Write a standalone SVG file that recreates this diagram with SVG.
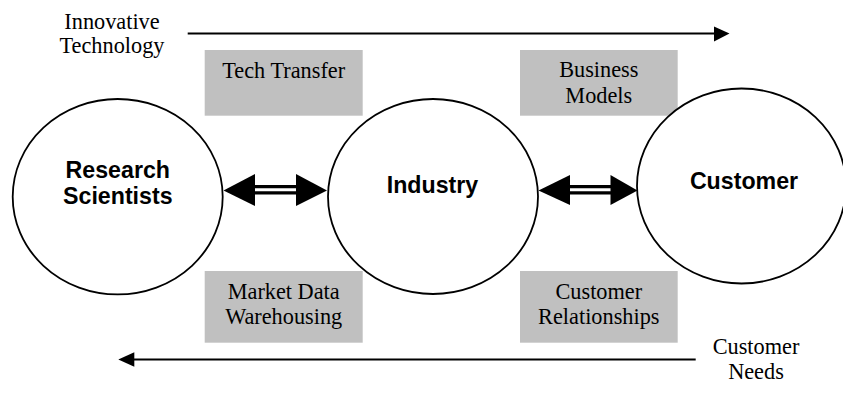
<svg xmlns="http://www.w3.org/2000/svg" width="843" height="395" viewBox="0 0 843 395">
<style>
.bg{fill:#ffffff}
.node{fill:#ffffff;stroke:#000;stroke-width:1.8}
.box{fill:#c0c0c0;stroke:none}
.serif{font-family:"Liberation Serif","Times New Roman",serif;font-size:22.3px;fill:#000;text-anchor:middle}
.bold{font-family:"Liberation Sans",Arial,sans-serif;font-size:23.2px;font-weight:bold;fill:#000;text-anchor:middle}
.line{stroke:#000;stroke-width:2;fill:none}
.shaft{stroke:#000;stroke-width:3.2;fill:none}
.head{fill:#000;stroke:none}
</style>
<rect class="bg" x="0" y="0" width="843" height="395"/>

<g id="labels">
  <text class="serif" x="112" y="29.3">Innovative</text>
  <text class="serif" x="112" y="53.3">Technology</text>
  <text class="serif" x="756" y="354">Customer</text>
  <text class="serif" x="756" y="379">Needs</text>
</g>

<g id="tech-transfer">
  <rect class="box" x="204.7" y="50" width="158" height="65.7"/>
  <text class="serif" x="283.7" y="77.7">Tech Transfer</text>
</g>
<g id="business-models">
  <rect class="box" x="520" y="50" width="157.7" height="65.7"/>
  <text class="serif" x="598.8" y="77.3">Business</text>
  <text class="serif" x="598.8" y="102.7">Models</text>
</g>
<g id="market-data">
  <rect class="box" x="204.7" y="271" width="158" height="71.7"/>
  <text class="serif" x="283.7" y="299.3">Market Data</text>
  <text class="serif" x="283.7" y="324.3">Warehousing</text>
</g>
<g id="customer-relationships">
  <rect class="box" x="520" y="271" width="157.7" height="71.7"/>
  <text class="serif" x="598.8" y="299.3">Customer</text>
  <text class="serif" x="598.8" y="324.3">Relationships</text>
</g>

<g id="research-scientists">
  <ellipse class="node" cx="117.7" cy="196.7" rx="105" ry="97.7"/>
  <text class="bold" x="117.8" y="177.7">Research</text>
  <text class="bold" x="117.8" y="204.3">Scientists</text>
</g>
<g id="industry">
  <ellipse class="node" cx="433" cy="196.5" rx="105" ry="97.5"/>
  <text class="bold" x="432.5" y="193.3">Industry</text>
</g>
<g id="customer">
  <ellipse class="node" cx="741.5" cy="186" rx="104.5" ry="97.5"/>
  <text class="bold" x="744" y="189.3">Customer</text>
</g>

<g id="connectors">
  <!-- top arrow -->
  <line class="line" x1="187.7" y1="33.4" x2="716" y2="33.4"/>
  <polygon class="head" points="714,26.5 729.5,33.4 714,41.5"/>
  <!-- bottom arrow -->
  <line class="line" x1="132" y1="359.5" x2="695.7" y2="359.5"/>
  <polygon class="head" points="118.3,359.5 134.3,352.3 134.3,366.7"/>
  <!-- left double arrow -->
  <line class="shaft" x1="254" y1="186.6" x2="297" y2="186.6"/>
  <line class="shaft" x1="254" y1="192.8" x2="297" y2="192.8"/>
  <polygon class="head" points="223.5,190.5 255,174 255,206"/>
  <polygon class="head" points="327,190.5 296,174 296,206"/>
  <!-- right double arrow -->
  <line class="shaft" x1="569" y1="186.6" x2="611.5" y2="186.6"/>
  <line class="shaft" x1="569" y1="192.8" x2="611.5" y2="192.8"/>
  <polygon class="head" points="538.5,190.5 570,175 570,205"/>
  <polygon class="head" points="637.5,190.5 610.5,175 610.5,205"/>
</g>
</svg>
